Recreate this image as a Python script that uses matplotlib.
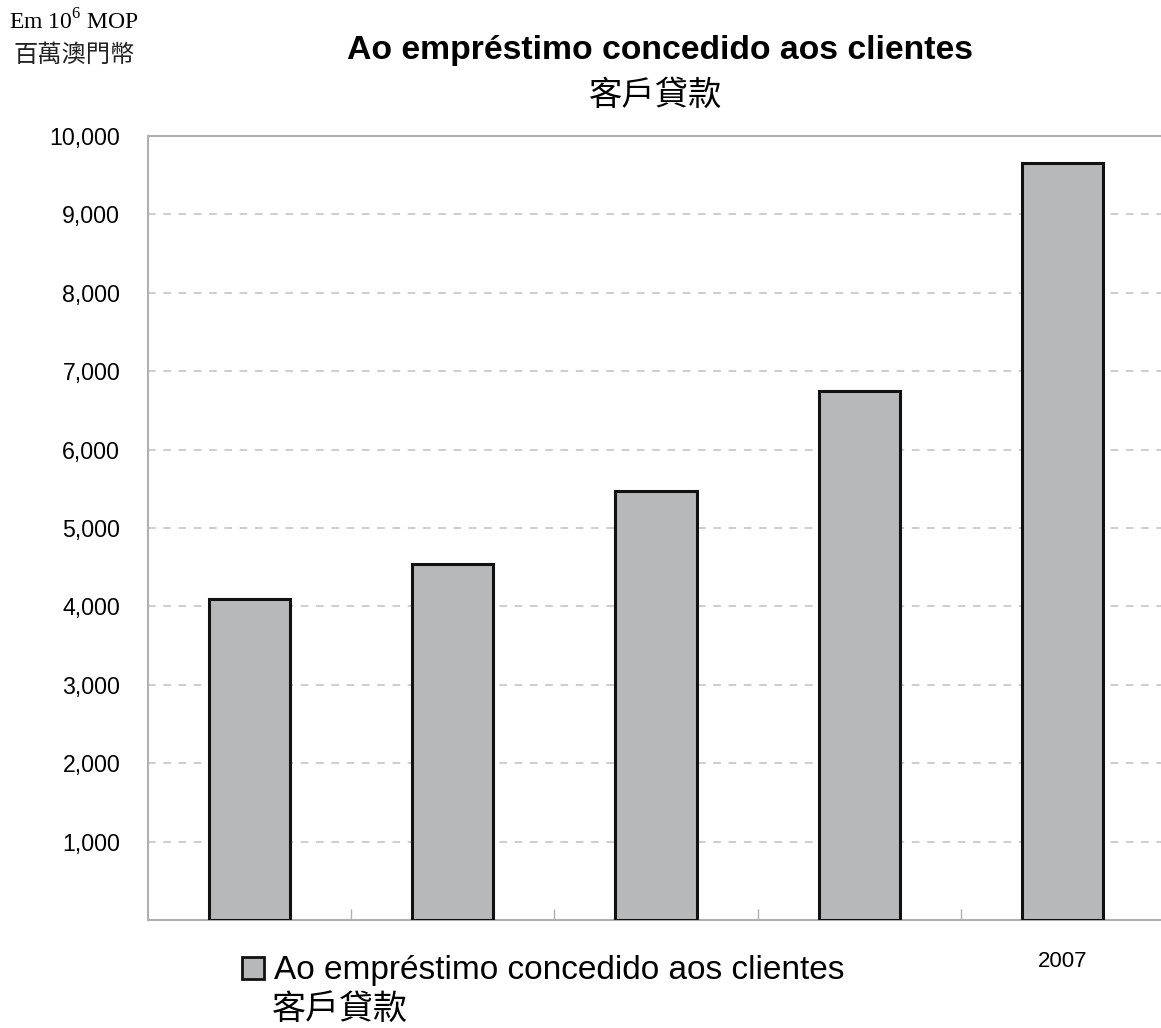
import matplotlib
matplotlib.use("Agg")
import matplotlib.pyplot as plt
from matplotlib.patches import Patch
from matplotlib.ticker import FuncFormatter, MultipleLocator

categories = ["2003", "2004", "2005", "2006", "2007"]
tick_labels = ["", "", "", "", "2007"]
loans = [4095, 4540, 5470, 6750, 9655]

series_pt = "Ao empréstimo concedido aos clientes"
series_zh = "客戶貸款"
title_pt = "Ao empréstimo concedido aos clientes"
title_zh = "客戶貸款"

SANS = ["Liberation Sans", "Noto Sans CJK TC", "DejaVu Sans"]
CJK = ["Noto Sans CJK TC", "DejaVu Sans"]
SERIF = ["Liberation Serif", "DejaVu Serif"]

fig = plt.figure(figsize=(11.61, 10.28), dpi=100)
ax = fig.add_axes([148 / 1161, 108 / 1028, 1016 / 1161, 784 / 1028])

x = list(range(len(categories)))
ax.bar(x, loans, width=0.40, color="#b7b8ba", edgecolor="#111111", linewidth=2.2, zorder=3)

ax.set_xlim(-0.5, len(categories) - 0.5)
ax.set_ylim(0, 10000)
ax.yaxis.set_major_locator(MultipleLocator(1000))
ax.yaxis.set_major_formatter(FuncFormatter(lambda v, p: "" if v == 0 else f"{int(v):,}"))
ax.tick_params(axis="y", length=0, pad=20, labelsize=16.7)
for lab in ax.get_yticklabels():
    lab.set_family(SANS)

ax.set_xticks(x)
ax.set_xticklabels(tick_labels, family=SANS, fontsize=16)
ax.tick_params(axis="x", length=0, pad=22)
ax.set_xticks([i + 0.5 for i in x[:-1]], minor=True)
ax.tick_params(axis="x", which="minor", direction="in", length=8, color="#b0b0b0", width=1)

ax.grid(axis="y", color="#c0c0c0", linestyle=(0, (5, 5)), linewidth=1.1, zorder=0)
for s in ["left", "bottom", "top"]:
    ax.spines[s].set_color("#b0b0b0")
    ax.spines[s].set_linewidth(1.5)
ax.spines["right"].set_visible(False)

fig.text(660 / 1161, 1 - 50 / 1028, title_pt, ha="center", va="center",
         fontsize=24.3, fontweight="bold", family=SANS)
fig.text(656 / 1161, 1 - 95 / 1028, title_zh, ha="center", va="center",
         fontsize=24, family=CJK)

fig.text(74 / 1161, 1 - 22 / 1028, r"Em 10$^{\mathregular{6}}$ MOP", ha="center", va="center",
         fontsize=17, family=SERIF)
fig.text(74 / 1161, 1 - 55 / 1028, "百萬澳門幣", ha="center", va="center",
         fontsize=17.5, family=CJK, color="#222222")

handle = Patch(facecolor="#b7b8ba", edgecolor="#111111", linewidth=2)
leg = fig.legend([handle], [series_pt], loc="center left",
                 bbox_to_anchor=(242 / 1161, 1 - 971 / 1028), frameon=False,
                 handlelength=0.65, handleheight=0.62, handletextpad=0.3,
                 prop={"family": SANS, "size": 24}, borderpad=0, borderaxespad=0)
fig.text(272 / 1161, 1 - 1009 / 1028, series_zh, ha="left", va="center",
         fontsize=24.5, family=CJK)

fig.savefig("out.png", dpi=100)
